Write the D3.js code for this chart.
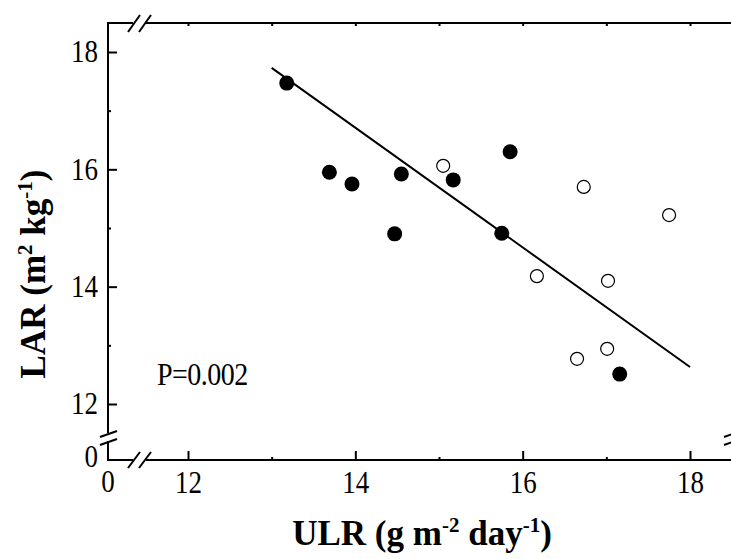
<!DOCTYPE html>
<html>
<head>
<meta charset="utf-8">
<script src="https://cdn.jsdelivr.net/npm/d3@7"></script>
<style>
  html, body { margin: 0; padding: 0; background: #fff; }
  svg { display: block; }
  text { font-family: "Liberation Serif", "Times New Roman", serif; fill: #000; }
</style>
</head>
<body>
<div id="chart"></div>
<script>
// ---- data ----
const xTicks = [12, 14, 16, 18];
const xMinorTicks = [13, 15, 17];
const yTicks = [12, 14, 16, 18];
const yMinorTicks = [13, 15, 17];
const topTicks = [12, 13, 14, 15, 16, 17, 18];

const filledX = [13.18, 13.69, 13.96, 14.55, 14.47, 15.17, 15.85, 15.75, 17.16];
const filledY = [17.47, 15.95, 15.75, 15.92, 14.90, 15.82, 16.30, 14.91, 12.51];

const openX = [15.05, 16.73, 17.75, 16.17, 17.02, 17.01, 16.65];
const openY = [16.06, 15.70, 15.22, 14.18, 14.10, 12.94, 12.77];

const fitX = [13, 18];
const fitY = [17.73, 12.63];

const pText = "P=0.002";

// ---- layout ----
const W = 731, H = 559;
const axL = 108, axB = 460, axT = 23, axR = 732;
const sy = 1.14;

const svg = d3.select("#chart").append("svg").attr("width", W).attr("height", H);

const x = d3.scaleLinear().domain([12, 18]).range([188, 690]);
const y = d3.scaleLinear().domain([12, 18]).range([404, 52]);

const lw = 2;
const line = (x1, y1, x2, y2) => svg.append("line")
  .attr("x1", x1).attr("y1", y1).attr("x2", x2).attr("y2", y2)
  .attr("stroke", "#000").attr("stroke-width", lw);

// axis frame with breaks
line(axL, axT, axL, 433);
line(axL, 441, axL, axB);
line(100, 437, 117, 431);
line(100, 445, 117, 439);
line(axR, axT, axR, 433);
line(axR, 441, axR, axB);
line(axR - 8, 437, axR + 9, 431);
line(axR - 8, 445, axR + 9, 439);
line(axL - 1, axB, 133, axB);
line(146, axB, axR, axB);
line(128, 468, 140, 452);
line(139, 468, 151, 452);
line(axL - 1, axT, 133, axT);
line(146, axT, axR, axT);
line(128, 32, 140, 15);
line(139, 32, 151, 15);

// ---- axes (ticks + labels) ----
const tickFont = "27px";

const gx = svg.append("g").attr("transform", `translate(0,${axB})`)
  .call(d3.axisBottom(x).tickValues(xTicks).tickFormat(d3.format("d"))
    .tickSizeInner(-9).tickSizeOuter(0).tickPadding(10));
const gxm = svg.append("g").attr("transform", `translate(0,${axB})`)
  .call(d3.axisBottom(x).tickValues(xMinorTicks).tickFormat("")
    .tickSizeInner(-3).tickSizeOuter(0));
const gxt = svg.append("g").attr("transform", `translate(0,${axT})`)
  .call(d3.axisTop(x).tickValues(topTicks).tickFormat("")
    .tickSizeInner(-3).tickSizeOuter(0));

const gy = svg.append("g").attr("transform", `translate(${axL},0)`)
  .call(d3.axisLeft(y).tickValues(yTicks).tickFormat(d3.format("d"))
    .tickSizeInner(-9).tickSizeOuter(0).tickPadding(10));
const gym = svg.append("g").attr("transform", `translate(${axL},0)`)
  .call(d3.axisLeft(y).tickValues(yMinorTicks).tickFormat("")
    .tickSizeInner(-3).tickSizeOuter(0));

[gx, gxm, gxt, gy, gym].forEach(g => {
  g.select(".domain").remove();
  g.selectAll(".tick line").attr("stroke", "#000").attr("stroke-width", lw);
  g.selectAll("text").attr("font-family", "Liberation Serif, serif")
    .attr("font-size", tickFont).attr("fill", "#000")
    .attr("transform", `scale(1,${sy})`);
});

// "0" labels at the broken origin
svg.append("text").attr("x", axL).attr("y", 0)
  .attr("transform", `translate(0,${axB + 10}) scale(1,${sy})`)
  .attr("dy", "0.71em").attr("text-anchor", "middle").attr("font-size", tickFont).text("0");
svg.append("text").attr("x", axL - 10).attr("y", 0)
  .attr("transform", `translate(0,${axB - 3}) scale(1,${sy})`)
  .attr("dy", "0.32em").attr("text-anchor", "end").attr("font-size", tickFont).text("0");

// ---- regression line ----
svg.append("path")
  .datum(fitX.map((v, i) => [v, fitY[i]]))
  .attr("d", d3.line().x(d => x(d[0])).y(d => y(d[1])))
  .attr("fill", "none").attr("stroke", "#000").attr("stroke-width", 2);

// ---- points ----
svg.append("g").selectAll("circle")
  .data(filledX.map((v, i) => [v, filledY[i]]))
  .join("circle")
  .attr("cx", d => x(d[0])).attr("cy", d => y(d[1])).attr("r", 7.5)
  .attr("fill", "#000");

svg.append("g").selectAll("circle")
  .data(openX.map((v, i) => [v, openY[i]]))
  .join("circle")
  .attr("cx", d => x(d[0])).attr("cy", d => y(d[1])).attr("r", 6.5)
  .attr("fill", "#fff").attr("stroke", "#000").attr("stroke-width", 1.2);

// ---- P text ----
svg.append("text").attr("x", 0).attr("y", 0)
  .attr("transform", `translate(157,385) scale(1,${sy})`)
  .attr("font-size", "28px").attr("letter-spacing", "-0.5px").text(pText);

// ---- axis titles ----
const xt = svg.append("text")
  .attr("x", 422).attr("y", 545).attr("text-anchor", "middle")
  .attr("font-size", "35px").attr("font-weight", "bold");
xt.append("tspan").text("ULR (g m");
xt.append("tspan").attr("dy", -13).attr("font-size", "21px").text("-2");
xt.append("tspan").attr("dy", 13).text(" day");
xt.append("tspan").attr("dy", -13).attr("font-size", "21px").text("-1");
xt.append("tspan").attr("dy", 13).text(")");

const yt = svg.append("text")
  .attr("transform", "translate(45,274) rotate(-90)")
  .attr("text-anchor", "middle")
  .attr("font-size", "35px").attr("font-weight", "bold");
yt.append("tspan").text("LAR (m");
yt.append("tspan").attr("dy", -13).attr("font-size", "21px").text("2");
yt.append("tspan").attr("dy", 13).text(" kg");
yt.append("tspan").attr("dy", -13).attr("font-size", "21px").text("-1");
yt.append("tspan").attr("dy", 13).text(")");
</script>
</body>
</html>
